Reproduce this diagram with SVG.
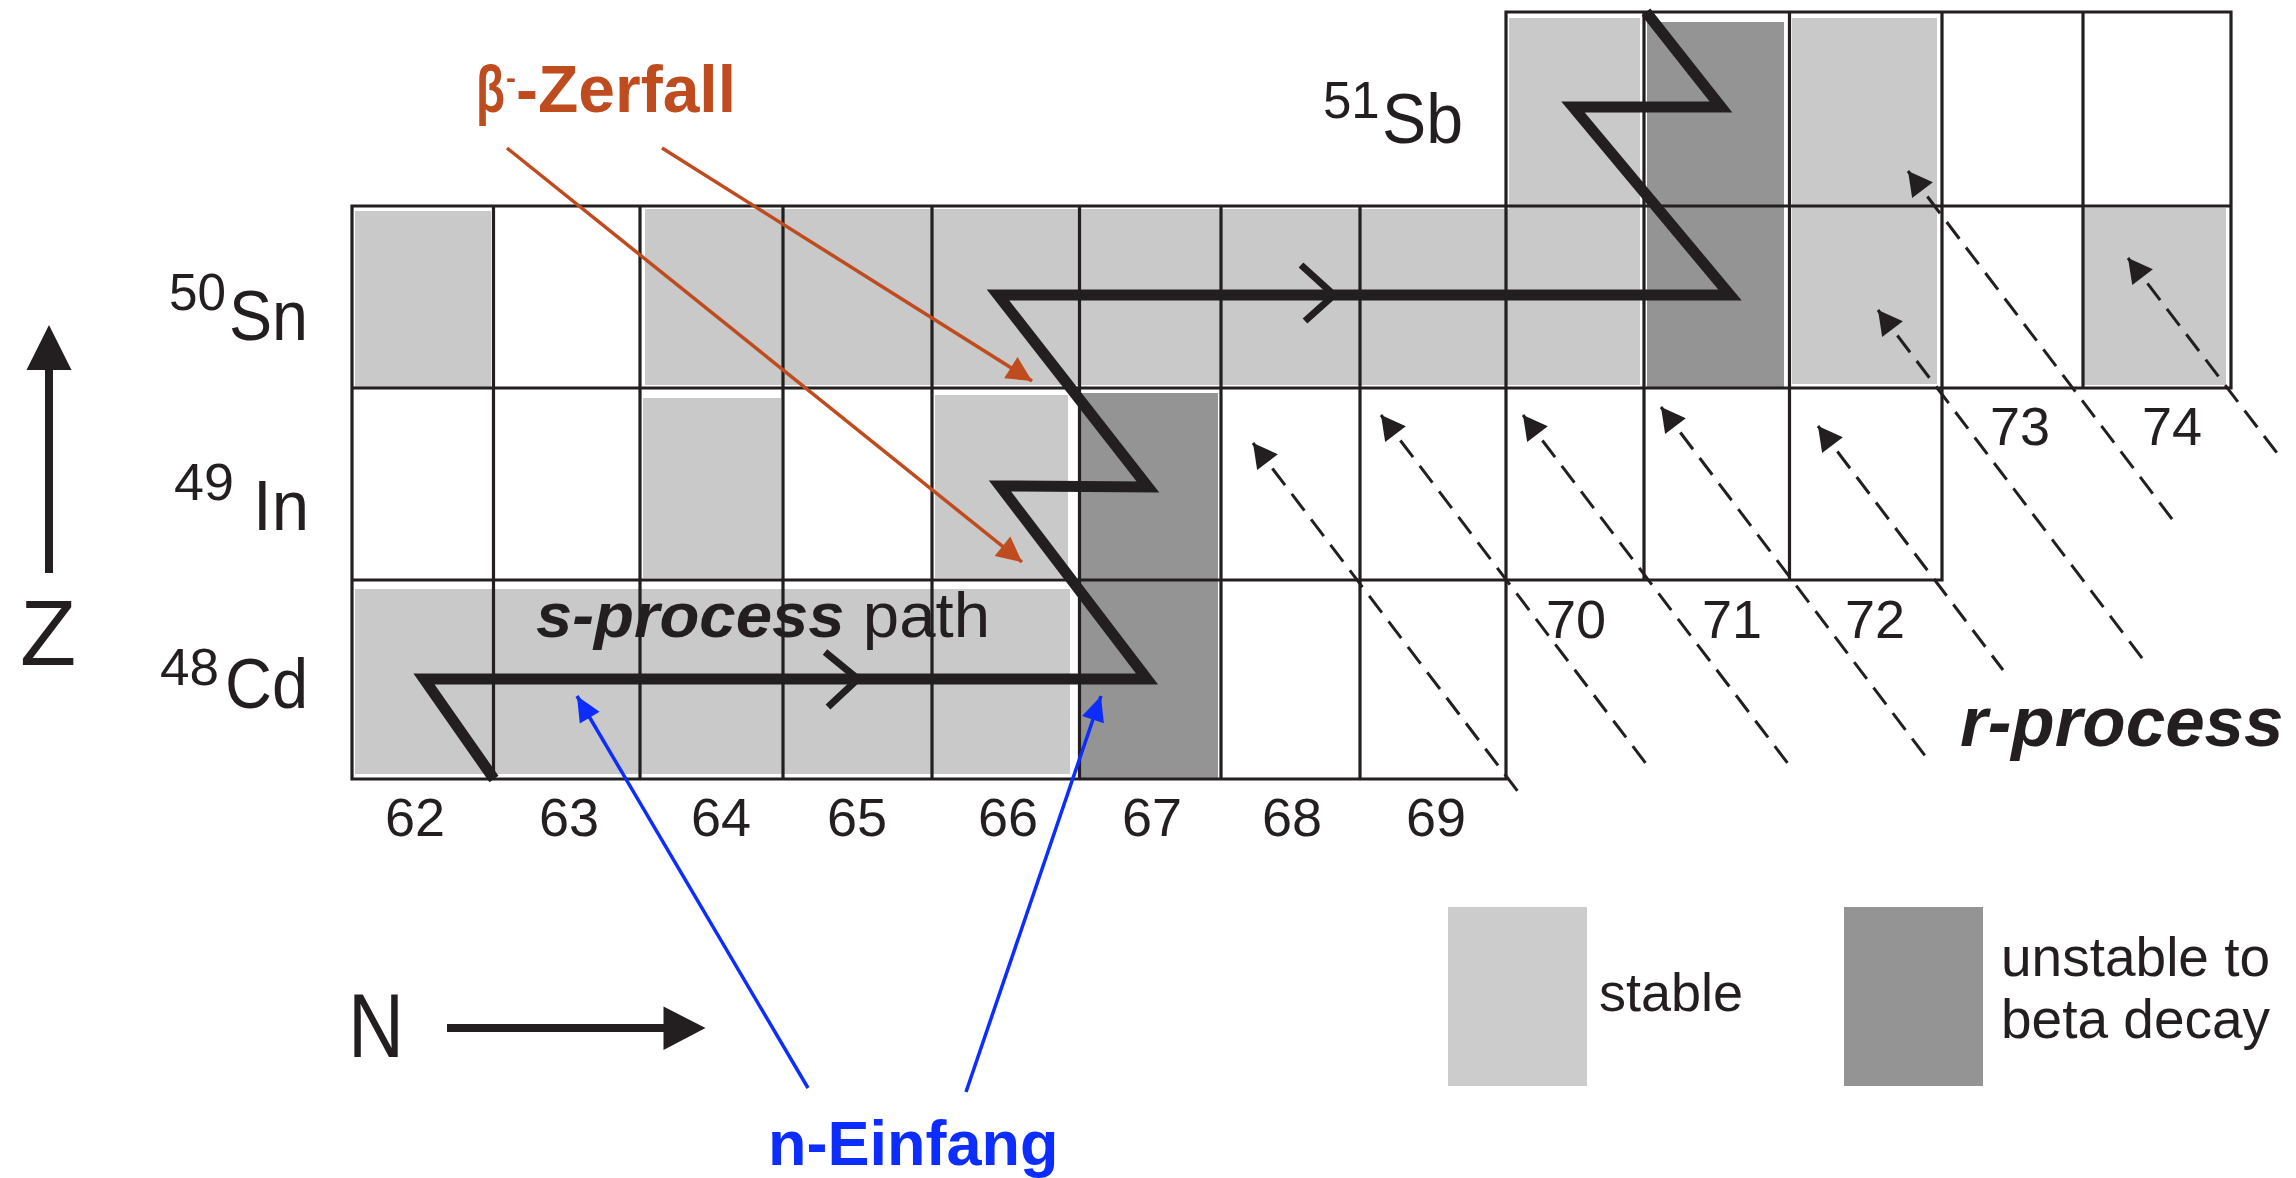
<svg xmlns="http://www.w3.org/2000/svg" width="2296" height="1178" viewBox="0 0 2296 1178">
<style>
  .lt{fill:#c9c9c9}
  .dk{fill:#949494}
  .grid{fill:none;stroke:#231f20;stroke-width:3.2;stroke-linecap:square}
  .path{fill:none;stroke:#231f20;stroke-width:11;stroke-linejoin:miter;stroke-miterlimit:10}
  .chev{fill:none;stroke:#231f20;stroke-width:7;stroke-linejoin:miter;stroke-miterlimit:10}
  .t{font-family:"Liberation Sans",Arial,sans-serif;fill:#231f20}
  .num{font-size:54px;text-anchor:middle}
  .sym{font-size:70px}
  .sup{font-size:51px}
  .dash{fill:none;stroke:#231f20;stroke-width:3;stroke-dasharray:21 11;marker-start:url(#arrK)}
  .orange{fill:none;stroke:#bf4c1f;stroke-width:3.5;marker-end:url(#arrO)}
  .blue{fill:none;stroke:#0d2dff;stroke-width:3.5;marker-end:url(#arrB)}
</style>
<defs>
  <marker id="arrK" viewBox="-26 -14 28 28" refX="0" refY="0" markerWidth="28" markerHeight="28" markerUnits="userSpaceOnUse" orient="auto-start-reverse">
    <path d="M0,0 L-24,-13 L-24,13 z" fill="#231f20"/>
  </marker>
  <marker id="arrO" viewBox="-27 -14 29 28" refX="0" refY="0" markerWidth="29" markerHeight="28" markerUnits="userSpaceOnUse" orient="auto">
    <path d="M0,0 L-25,-12.5 L-25,12.5 z" fill="#bf4c1f"/>
  </marker>
  <marker id="arrB" viewBox="-27 -14 29 28" refX="0" refY="0" markerWidth="29" markerHeight="28" markerUnits="userSpaceOnUse" orient="auto">
    <path d="M0,0 L-25,-11.5 L-25,11.5 z" fill="#0d2dff"/>
  </marker>
</defs>
<rect width="2296" height="1178" fill="#ffffff"/>

<g id="cells">
  <rect id="Sn112" class="lt" x="355" y="211" width="136" height="176"/>
  <rect id="Sn114-120" class="lt" x="645" y="209" width="995" height="176"/>
  <rect id="Sb121-Sn120" class="lt" x="1509" y="18" width="131" height="367"/>
  <rect id="Sb122-Sn121" class="dk" x="1647" y="22" width="137" height="365"/>
  <rect id="Sb123-Sn122" class="lt" x="1792" y="18" width="145" height="366"/>
  <rect id="Sn124" class="lt" x="2084" y="208" width="142" height="177"/>
  <rect id="In113" class="lt" x="643" y="398" width="138" height="180"/>
  <rect id="In115" class="lt" x="935" y="395" width="133" height="183"/>
  <rect id="In116-Cd115" class="dk" x="1080" y="393" width="138" height="385"/>
  <rect id="Cd110-114" class="lt" x="355" y="589" width="715" height="185"/>
</g>

<g id="grid">
  <path class="grid" d="M352,206 H2231 M1506,12 H2231 M352,388 H2231 M352,580 H1942 M352,779 H1506
    M352,206 V779 M493.5,206 V779 M640,206 V779 M783,206 V779 M932,206 V779 M1079.5,206 V779 M1221,206 V779 M1360,206 V779
    M1506,12 V779 M1644,12 V580 M1789.5,12 V580 M1942,12 V580 M2083,12 V388 M2231,12 V388"/>
</g>

<g id="s-path">
  <polyline class="path" points="494,779 424,679 1147,679 1000,486 1148,487 998,295 1730,295 1573,107 1721,107 1646,12"/>
  <polyline class="chev" points="825,652 858,679 828,707"/>
  <polyline class="chev" points="1301,265 1334,295 1305,321"/>
</g>

<g id="connectors">
  <path class="dash" d="M1253,443 L1519,793"/>
  <path class="dash" d="M1381,415 L1647,765"/>
  <path class="dash" d="M1523,415 L1789,765"/>
  <path class="dash" d="M1661,407 L1926,757"/>
  <path class="dash" d="M1818,426 L2003,670"/>
  <path class="dash" d="M1878,310 L2145,662"/>
  <path class="dash" d="M1908,171 L2175,523"/>
  <path class="dash" d="M2128,258 L2277,453"/>
  <path class="orange" d="M507,148 L1022,562"/>
  <path class="orange" d="M662,148 L1032,381"/>
  <path class="blue" d="M808,1088 L577,696"/>
  <path class="blue" d="M966,1092 L1101,696"/>
</g>

<g id="axes">
  <line x1="49" y1="365" x2="49" y2="573" stroke="#231f20" stroke-width="8"/>
  <polygon points="49,325 26.5,370 71.5,370" fill="#231f20"/>
  <line x1="447" y1="1028" x2="668" y2="1028" stroke="#231f20" stroke-width="8"/>
  <polygon points="705.5,1028 663.5,1006.5 663.5,1050" fill="#231f20"/>
  <text class="t" x="20" y="665" font-size="92">Z</text>
  <text class="t" x="348" y="1057" font-size="91" textLength="56" lengthAdjust="spacingAndGlyphs">N</text>
</g>

<g id="row-labels">
  <text class="t sup" x="1323" y="118" font-size="49">51</text>
  <text class="t sym" x="1382" y="143" textLength="81" lengthAdjust="spacingAndGlyphs">Sb</text>
  <text class="t sup" x="169" y="310" textLength="57" lengthAdjust="spacingAndGlyphs">50</text>
  <text class="t sym" x="229" y="340" textLength="79" lengthAdjust="spacingAndGlyphs">Sn</text>
  <text class="t sup" x="174" y="500" textLength="60" lengthAdjust="spacingAndGlyphs">49</text>
  <text class="t sym" x="253" y="530" textLength="56" lengthAdjust="spacingAndGlyphs">In</text>
  <text class="t sup" x="160" y="685" textLength="59" lengthAdjust="spacingAndGlyphs">48</text>
  <text class="t sym" x="225" y="708" textLength="83" lengthAdjust="spacingAndGlyphs">Cd</text>
</g>

<g id="col-labels">
  <text class="t num" x="415" y="836">62</text>
  <text class="t num" x="569" y="836">63</text>
  <text class="t num" x="721" y="836">64</text>
  <text class="t num" x="857" y="836">65</text>
  <text class="t num" x="1008" y="836">66</text>
  <text class="t num" x="1152" y="836">67</text>
  <text class="t num" x="1292" y="836">68</text>
  <text class="t num" x="1436" y="836">69</text>
  <text class="t num" x="1576" y="638">70</text>
  <text class="t num" x="1732" y="638">71</text>
  <text class="t num" x="1875" y="638">72</text>
  <text class="t num" x="2020" y="445">73</text>
  <text class="t num" x="2172" y="445">74</text>
</g>

<g id="labels">
  <text class="t" x="536" y="637" font-size="63" textLength="454" lengthAdjust="spacingAndGlyphs"><tspan font-weight="bold" font-style="italic">s-process</tspan> path</text>
  <text class="t" x="1960" y="746" font-size="71" font-weight="bold" font-style="italic">r-process</text>
  <text id="beta-label" y="112" fill="#bf4c1f" font-family="Liberation Sans, Arial, sans-serif" font-weight="bold" font-size="66"><tspan x="476" textLength="29" lengthAdjust="spacingAndGlyphs">β</tspan><tspan x="506" dy="-24" font-size="30">-</tspan><tspan x="516" dy="24">-Zerfall</tspan></text>
  <text x="768" y="1165" font-size="63" font-weight="bold" fill="#0d2dff" font-family="Liberation Sans, Arial, sans-serif">n-Einfang</text>
</g>

<g id="legend">
  <rect x="1448" y="907" width="139" height="179" fill="#cccccc"/>
  <text class="t" x="1599" y="1011" font-size="54">stable</text>
  <rect class="dk" x="1844" y="907" width="139" height="179"/>
  <text class="t" x="2001" y="976" font-size="55">unstable to</text>
  <text class="t" x="2001" y="1038" font-size="55">beta decay</text>
</g>
</svg>
